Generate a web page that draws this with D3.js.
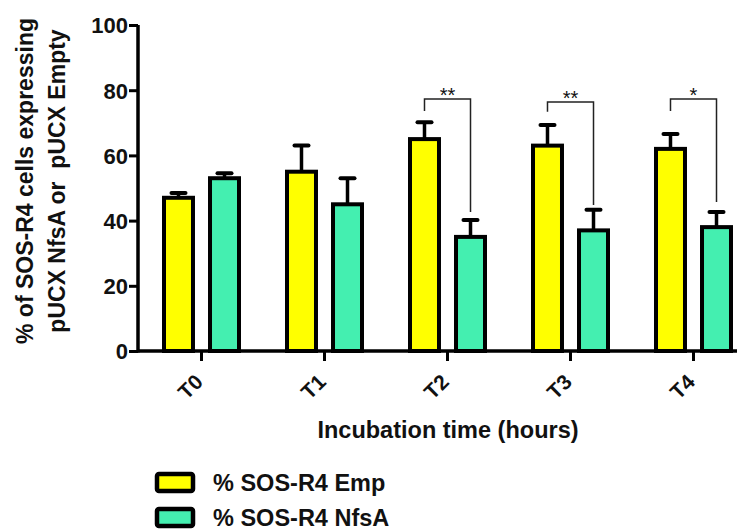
<!DOCTYPE html>
<html>
<head>
<meta charset="utf-8">
<script src="https://cdn.jsdelivr.net/npm/d3@7"></script>
<style>
  html, body { margin: 0; padding: 0; background: #fff; }
  svg { display: block; }
  text { font-family: Arial, "Liberation Sans", sans-serif; font-weight: bold; fill: #111; }
</style>
</head>
<body>
<svg id="chart" width="749" height="532"></svg>
<script>
// Time points and group means / SEM
const categories = ["T0", "T1", "T2", "T3", "T4"];
const empValues  = [47, 55, 65, 63, 62];
const empErrors  = [1.5, 8, 5.2, 6.3, 4.6];
const nfsValues  = [53, 45, 35, 37, 38];
const nfsErrors  = [1.5, 8, 5.2, 6.3, 4.6];
const seriesNames = ["% SOS-R4 Emp", "% SOS-R4 NfsA"];
const seriesColors = ["#ffff00", "#44efb0"];
const yTicks = [0, 20, 40, 60, 80, 100];

// Significance brackets: category, bracket top, left foot, right foot, label
const sigCategories = ["T2", "T3", "T4"];
const sigTop   = [77.3, 76.4, 77.3];
const sigLeft  = [73.6, 73.4, 73.6];
const sigRight = [42.6, 44.8, 45.7];
const sigLabels = ["**", "**", "*"];

const svg = d3.select("#chart");
const plotRight = 737;

const y = d3.scaleLinear().domain([0, 100]).range([351, 25]);
const x = d3.scaleBand().domain(categories).range([140, 755]).paddingInner(0).paddingOuter(0);
const sub = d3.scaleBand().domain([0, 1]).range([-39.5, 39.5]).paddingInner(0.283).paddingOuter(0);

// Bars
const series = [
  { vals: empValues, errs: empErrors },
  { vals: nfsValues, errs: nfsErrors }
];
const center = c => x(c) + x.bandwidth() / 2;

series.forEach((s, si) => {
  const g = svg.append("g");
  categories.forEach((c, i) => {
    const bx = center(c) + sub(si);
    const bw = sub.bandwidth();
    const cx = bx + bw / 2;
    // error bar (upper only)
    g.append("line")
      .attr("x1", cx).attr("x2", cx)
      .attr("y1", y(s.vals[i])).attr("y2", y(s.vals[i] + s.errs[i]))
      .attr("stroke", "#000").attr("stroke-width", 3.5);
    g.append("line")
      .attr("x1", cx - 7).attr("x2", cx + 7)
      .attr("y1", y(s.vals[i] + s.errs[i])).attr("y2", y(s.vals[i] + s.errs[i]))
      .attr("stroke", "#000").attr("stroke-width", 4).attr("stroke-linecap", "round");
    g.append("rect")
      .attr("x", bx + 2).attr("y", y(s.vals[i]))
      .attr("width", bw - 4).attr("height", y(0) - y(s.vals[i]))
      .attr("fill", seriesColors[si])
      .attr("stroke", "#000").attr("stroke-width", 4);
  });
});

// Axes
const yAxis = d3.axisLeft(y).tickValues(yTicks).tickSize(9).tickPadding(1).tickSizeOuter(0);
const gy = svg.append("g").attr("transform", "translate(138,0)").call(yAxis);
gy.select(".domain").attr("stroke", "#000").attr("stroke-width", 3.5).attr("d", `M0,${y(0) + 1.5}V${y(100)}`);
gy.selectAll(".tick line").attr("stroke", "#000").attr("stroke-width", 3);
gy.selectAll(".tick text").attr("font-size", 22).attr("fill", "#111")
  .style("font-family", "Arial, 'Liberation Sans', sans-serif").style("font-weight", "bold")
  .attr("dy", "0.36em");

const xAxis = d3.axisBottom(x).tickSize(10).tickSizeOuter(0).tickFormat("");
const gx = svg.append("g").attr("transform", `translate(0,${y(0)})`).call(xAxis);
gx.select(".domain").attr("stroke", "#000").attr("stroke-width", 3.5).attr("d", `M138,0H${plotRight}`);
gx.selectAll(".tick line").attr("stroke", "#000").attr("stroke-width", 3);

// Rotated category labels
svg.append("g").selectAll("text").data(categories).enter().append("text")
  .attr("transform", c => `translate(${center(c) - 2.5},${y(0) + 27}) rotate(-45)`)
  .attr("text-anchor", "end")
  .attr("dy", "0.35em")
  .attr("font-size", 21)
  .text(c => c);

// Axis titles
svg.append("text")
  .attr("x", 448).attr("y", 438)
  .attr("text-anchor", "middle")
  .attr("font-size", 23.5)
  .text("Incubation time (hours)");

const yt = svg.append("text")
  .attr("transform", "translate(0,181) rotate(-90)")
  .attr("text-anchor", "middle")
  .attr("font-size", 23);
yt.append("tspan").attr("x", 0).attr("y", 33).text("% of SOS-R4 cells expressing");
yt.append("tspan").attr("x", 0).attr("y", 65).attr("xml:space", "preserve").style("white-space", "pre").text("pUCX NfsA or  pUCX Empty");

// Significance brackets
sigCategories.forEach((c, i) => {
  const xl = center(c) + sub(0) + sub.bandwidth() / 2;
  const xr = center(c) + sub(1) + sub.bandwidth() / 2;
  svg.append("path")
    .attr("d", `M${xl},${y(sigLeft[i])}V${y(sigTop[i])}H${xr}V${y(sigRight[i])}`)
    .attr("fill", "none").attr("stroke", "#222").attr("stroke-width", 1.5);
  svg.append("text")
    .attr("x", (xl + xr) / 2).attr("y", y(sigTop[i]) + 3)
    .attr("text-anchor", "middle")
    .attr("font-size", 20)
    .style("font-weight", "normal")
    .text(sigLabels[i]);
});

// Legend
const lg = svg.append("g").attr("transform", "translate(157,474)");
seriesNames.forEach((n, i) => {
  const row = lg.append("g").attr("transform", `translate(0,${i * 35})`);
  row.append("rect").attr("x", 0).attr("y", 0).attr("width", 36).attr("height", 17)
    .attr("rx", 2)
    .attr("fill", seriesColors[i]).attr("stroke", "#000").attr("stroke-width", 4.5);
  row.append("text").attr("x", 56).attr("y", 17).attr("font-size", 23.5).text(n);
});
</script>
</body>
</html>
